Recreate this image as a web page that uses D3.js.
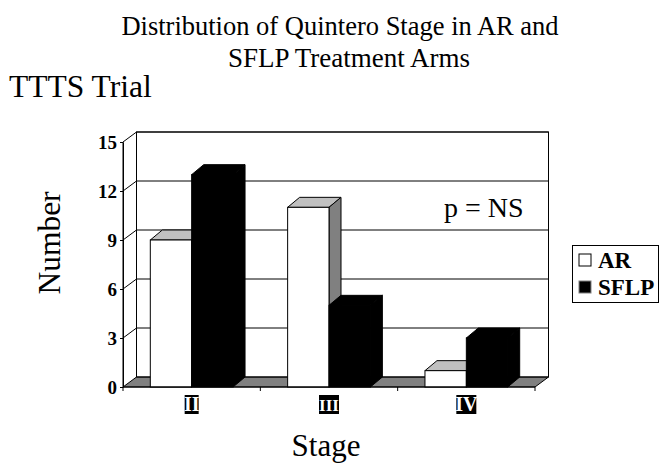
<!DOCTYPE html>
<html lang="en">
<head>
<meta charset="UTF-8">
<title>Distribution of Quintero Stage</title>
<style>
    html, body { margin: 0; background: #fff; }
    svg { display: block; font-family: "Liberation Serif", serif; }
    .axis path { stroke: #000; }
    .axis line { stroke: #000; }
    .axis text { font-family: "Liberation Serif", serif; font-weight: bold; fill: #000; }
</style>
</head>
<body>
<svg width="665" height="468"></svg>

<script src="https://d3js.org/d3.v7.min.js"></script>
<script>
const stages = ["II", "III", "IV"];
const seriesNames = ["AR", "SFLP"];
const arValues = [9, 11, 1];
const sflpValues = [13, 5, 3];
const yTicks = [0, 3, 6, 9, 12, 15];

const svg = d3.select("svg");

// plot front plane and the depth offset of the 3D box
const left = 123, right = 535, bottom = 387, top_ = 142;
const dx = 13.5, dy = -10;
const barDx = 12; // bars are a bit shallower than the box

const x = d3.scaleBand().domain(stages).range([left, right]);
const xInner = d3.scaleBand().domain(seriesNames).range([0, x.bandwidth()]).paddingOuter(0.66);
const y = d3.scaleLinear().domain([0, 15]).range([bottom, top_]);

const poly = pts => pts.map(p => p.join(",")).join(" ");

// floor
svg.append("polygon")
    .attr("points", poly([[left, bottom], [left + dx, bottom + dy], [right + dx, bottom + dy], [right, bottom]]))
    .attr("fill", "#808080")
    .attr("stroke", "#000");

// back wall and side wall outlines
svg.append("rect")
    .attr("x", left + dx).attr("y", top_ + dy)
    .attr("width", right - left).attr("height", bottom - top_)
    .attr("fill", "none").attr("stroke", "#000");
svg.append("line")
    .attr("x1", left).attr("y1", bottom)
    .attr("x2", left).attr("y2", top_).attr("stroke", "#000");

// gridlines run along the left wall and then across the back wall
svg.append("g")
    .selectAll("polyline")
    .data(yTicks.slice(1))
    .join("polyline")
    .attr("fill", "none")
    .attr("stroke", "#000")
    .attr("points", d => poly([[left, y(d)], [left + dx, y(d) + dy], [right + dx, y(d) + dy]]));

// bars, drawn back to front
const bars = [];
stages.forEach((s, i) => {
    bars.push({ stage: s, series: "AR", value: arValues[i] });
    bars.push({ stage: s, series: "SFLP", value: sflpValues[i] });
});

svg.append("g")
    .selectAll("g")
    .data(bars)
    .join("g")
    .each(function(d) {
        const g = d3.select(this);
        const x0 = x(d.stage) + xInner(d.series);
        const x1 = x0 + xInner.bandwidth();
        const yt = y(d.value);
        const black = d.series === "SFLP";
        g.append("polygon")
            .attr("points", poly([[x0, yt], [x0 + barDx, yt + dy], [x1 + barDx, yt + dy], [x1, yt]]))
            .attr("fill", black ? "#000" : "#c0c0c0").attr("stroke", "#000");
        g.append("polygon")
            .attr("points", poly([[x1, yt], [x1 + barDx, yt + dy], [x1 + barDx, bottom + dy], [x1, bottom]]))
            .attr("fill", black ? "#000" : "#808080").attr("stroke", "#000");
        g.append("rect")
            .attr("x", x0).attr("y", yt)
            .attr("width", x1 - x0).attr("height", bottom - yt)
            .attr("fill", black ? "#000" : "#fff").attr("stroke", "#000");
    });

// y axis
svg.append("g")
    .attr("class", "axis")
    .attr("transform", `translate(${left},0)`)
    .call(d3.axisLeft(y).tickValues(yTicks).tickSize(3).tickPadding(3).tickSizeOuter(0))
    .call(g => g.selectAll("text").attr("font-size", 19));

// x axis: ticks sit between the categories
const xAxis = svg.append("g").attr("class", "axis");
xAxis.append("line")
    .attr("x1", left).attr("x2", right)
    .attr("y1", bottom).attr("y2", bottom)
    .attr("stroke", "#000");
xAxis.selectAll("line.sep")
    .data([0, 1, 2, 3])
    .join("line")
    .attr("class", "sep")
    .attr("x1", i => left + i * x.step()).attr("x2", i => left + i * x.step())
    .attr("y1", bottom).attr("y2", bottom + 4)
    .attr("stroke", "#000");

// category labels are white on black blocks
const xLab = svg.append("g").selectAll("g").data(stages).join("g")
    .attr("transform", d => `translate(${x(d) + x.bandwidth() / 2},0)`);
xLab.append("rect")
    .attr("x", d => d === "II" ? -7 : -10)
    .attr("width", d => d === "II" ? 14 : 20)
    .attr("y", 395).attr("height", 19)
    .attr("fill", "#000");
xLab.append("text")
    .attr("text-anchor", "middle")
    .attr("y", 411)
    .attr("font-size", d => d === "III" ? 17 : 20)
    .attr("font-weight", "bold")
    .attr("fill", "#fff")
    .text(d => d);

// titles
const title = svg.append("g").attr("text-anchor", "middle").attr("font-size", 26.5).attr("fill", "#000");
title.append("text").attr("x", 340).attr("y", 35).text("Distribution of Quintero Stage in AR and");
title.append("text").attr("x", 349).attr("y", 67).attr("font-size", 27).text("SFLP Treatment Arms");

svg.append("text").attr("x", 9).attr("y", 97).attr("font-size", 31.5).text("TTTS Trial");
svg.append("text").attr("x", 326).attr("y", 456).attr("text-anchor", "middle").attr("font-size", 31).text("Stage");
svg.append("text")
    .attr("transform", "translate(60,243) rotate(-90)")
    .attr("text-anchor", "middle")
    .attr("font-size", 31.5)
    .text("Number");
svg.append("text").attr("x", 444).attr("y", 217).attr("font-size", 28).text("p = NS");

// legend
const legend = svg.append("g");
legend.append("rect")
    .attr("x", 572.5).attr("y", 245.5)
    .attr("width", 86).attr("height", 57)
    .attr("fill", "#fff").attr("stroke", "#000");
const item = legend.selectAll("g").data(seriesNames).join("g")
    .attr("transform", (d, i) => `translate(579,${254 + i * 27})`);
item.append("rect")
    .attr("y", 0).attr("width", 12).attr("height", 12)
    .attr("fill", d => d === "AR" ? "#fff" : "#000")
    .attr("stroke", d => d === "AR" ? "#000" : "#808080");
item.append("text")
    .attr("x", 19).attr("y", 14)
    .attr("font-size", 23).attr("font-weight", "bold")
    .text(d => d);
</script>
</body>
</html>
